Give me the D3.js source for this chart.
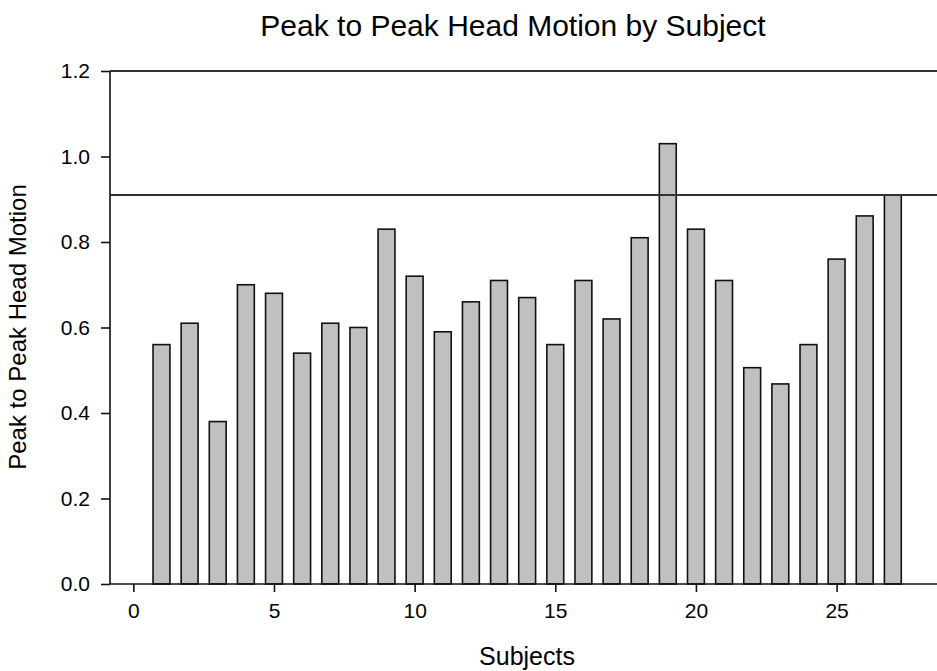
<!DOCTYPE html>
<html><head><meta charset="utf-8">
<script src="https://cdn.jsdelivr.net/npm/d3@7"></script>
<style>body{margin:0;background:#fff}svg{display:block}text{font-family:"Liberation Sans",Arial,sans-serif;fill:#000}</style>
</head><body>
<svg id="c" width="937" height="671"></svg>
<script>
const subjects = d3.range(1, 28);
const motion = [0.56,0.61,0.38,0.70,0.68,0.54,0.61,0.60,0.83,0.72,0.59,0.66,0.71,0.67,0.56,0.71,0.62,0.81,1.03,0.83,0.71,0.506,0.468,0.56,0.76,0.861,0.91];
const threshold = 0.91;
const xTicks = [0,5,10,15,20,25];
const yTicks = [0,0.2,0.4,0.6,0.8,1.0,1.2];

const svg = d3.select("#c");
const x = d3.scaleLinear().domain([-0.83, 28.57]).range([110, 937]);
const y = d3.scaleLinear().domain([0, 1.2]).range([584, 71]);
const bw = x(0.6) - x(0);

svg.append("g").selectAll("rect").data(subjects).join("rect")
  .attr("x", (d,i) => x(d) - bw/2)
  .attr("y", (d,i) => y(motion[i]))
  .attr("width", bw)
  .attr("height", (d,i) => y(0) - y(motion[i]))
  .attr("fill", "#c0c0c0").attr("stroke", "#111").attr("stroke-width", 1.6);

svg.append("line").attr("x1", x.range()[0]).attr("x2", x.range()[1]).attr("y1", y(1.2)).attr("y2", y(1.2)).attr("stroke", "#333").attr("stroke-width", 1.8);
svg.append("line").attr("x1", x.range()[0]).attr("x2", x.range()[1]).attr("y1", y(threshold)).attr("y2", y(threshold)).attr("stroke", "#333").attr("stroke-width", 1.8);

const yAxis = svg.append("g").attr("transform", `translate(${x.range()[0]},0)`)
  .call(d3.axisLeft(y).tickValues(yTicks).tickFormat(d3.format(".1f")).tickSize(9).tickPadding(11));
const xAxis = svg.append("g").attr("transform", `translate(0,${y(0)})`)
  .call(d3.axisBottom(x).tickValues(xTicks).tickFormat(d3.format("d")).tickSize(8).tickPadding(11));
[yAxis, xAxis].forEach(a => {
  a.select(".domain").attr("stroke", "#111").attr("stroke-width", 1.6);
  a.selectAll(".tick line").attr("stroke", "#111").attr("stroke-width", 1.6);
  a.selectAll("text").style("font-size", "21px").style("font-family", '"Liberation Sans",Arial,sans-serif').attr("fill", "#000");
});
yAxis.select(".domain").attr("d", `M0,${y(1.2)}V${y(0)}`);
xAxis.select(".domain").attr("d", `M${x.range()[0]},0H${x.range()[1]}`);

svg.append("text").attr("x", 513).attr("y", 36).attr("text-anchor", "middle").style("font-size", "30px").text("Peak to Peak Head Motion by Subject");
svg.append("text").attr("x", 527).attr("y", 665).attr("text-anchor", "middle").style("font-size", "25px").text("Subjects");
svg.append("text").attr("transform", "translate(26,327) rotate(-90)").attr("text-anchor", "middle").style("font-size", "24px").text("Peak to Peak Head Motion");
</script>
</body></html>
